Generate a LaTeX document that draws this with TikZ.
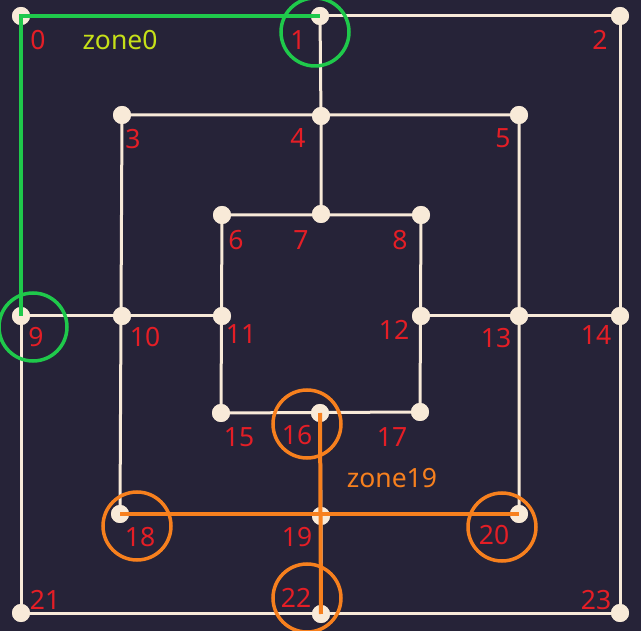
\documentclass[tikz,border=0pt]{standalone}
\usepackage{fontspec}
\setmainfont{Noto Sans}
\definecolor{bg}{HTML}{262338}
\definecolor{board}{HTML}{F8EAD8}
\definecolor{numred}{HTML}{E41E26}
\definecolor{zonegreen}{HTML}{1FC94B}
\definecolor{zonelime}{HTML}{C6E018}
\definecolor{zoneorange}{HTML}{F7801E}
\tikzset{
  pt/.style={circle,fill=board,inner sep=0pt,minimum size=18pt},
  num/.style={text=numred,font=\fontsize{26.5}{29}\selectfont,inner sep=0pt},
  zonetext/.style={font=\fontsize{26.5}{29}\selectfont,inner sep=0pt},
  boardline/.style={draw=board,line width=3pt},
  ring/.style={circle,draw=#1,line width=3.5pt,inner sep=0pt,minimum size=68pt},
  zoneline/.style={draw=#1,line width=4pt}
}
\begin{document}
\begin{tikzpicture}[x=1pt,y=-1pt]
\fill[bg] (0,0) rectangle (641,631);
\useasboundingbox (0,0) rectangle (641,631);
% board points
\node[pt] (p0) at (21,16) {};
\node[pt] (p1) at (320,16) {};
\node[pt] (p2) at (620,16) {};
\node[pt] (p3) at (122,115) {};
\node[pt] (p4) at (321,116) {};
\node[pt] (p5) at (519,115) {};
\node[pt] (p6) at (222,215) {};
\node[pt] (p7) at (321,214) {};
\node[pt] (p8) at (421,215) {};
\node[pt] (p9) at (21,316) {};
\node[pt] (p10) at (122,316) {};
\node[pt] (p11) at (222,316) {};
\node[pt] (p12) at (421,316) {};
\node[pt] (p13) at (519,316) {};
\node[pt] (p14) at (620,316) {};
\node[pt] (p15) at (221,413) {};
\node[pt] (p16) at (320,413) {};
\node[pt] (p17) at (420,412) {};
\node[pt] (p18) at (120,514) {};
\node[pt] (p19) at (321,516) {};
\node[pt] (p20) at (519,514) {};
\node[pt] (p21) at (21,613) {};
\node[pt] (p22) at (321,614) {};
\node[pt] (p23) at (620,613) {};
% board lines
\draw[boardline] (p0.center)--(p2.center)--(p23.center)--(p21.center)--cycle;
\draw[boardline] (p3.center)--(p5.center)--(p20.center)--(p18.center)--cycle;
\draw[boardline] (p6.center)--(p8.center)--(p17.center)--(p15.center)--cycle;
\draw[boardline] (p1.center)--(p4.center)--(p7.center);
\draw[boardline] (p9.center)--(p10.center)--(p11.center);
\draw[boardline] (p12.center)--(p13.center)--(p14.center);
\draw[boardline] (p16.center)--(p19.center)--(p22.center);
% points again on top of the lines
\foreach \i in {0,...,23}
  \fill[board] (p\i) circle (9pt);
% numbers
\node[num] (l0) at (38,40) {0};
\node[num] (l1) at (298,40) {1};
\node[num] (l2) at (600,40) {2};
\node[num] (l3) at (133,139) {3};
\node[num] (l4) at (298,138) {4};
\node[num] (l5) at (503,138) {5};
\node[num] (l6) at (236,240) {6};
\node[num] (l7) at (301,240) {7};
\node[num] (l8) at (400,240) {8};
\node[num] (l9) at (36,337) {9};
\node[num] (l10) at (145,337) {10};
\node[num] (l11) at (241,334) {11};
\node[num] (l12) at (394,330) {12};
\node[num] (l13) at (496,338) {13};
\node[num] (l14) at (596,335) {14};
\node[num] (l15) at (239,437) {15};
\node[num] (l16) at (297,435) {16};
\node[num] (l17) at (392,437) {17};
\node[num] (l18) at (140,537) {18};
\node[num] (l19) at (297,537) {19};
\node[num] (l20) at (494,535) {20};
\node[num] (l21) at (45,600) {21};
\node[num] (l22) at (296,598) {22};
\node[num] (l23) at (596,600) {23};
% zone0
\draw[zoneline=zonegreen] (p9.center)--(p0.center)--(p1.center);
\node[ring=zonegreen] (h1) at (315,32) {};
\node[ring=zonegreen] (h9) at (33,327) {};
\node[zonetext,text=zonelime] (z0) at (120,40) {zone0};
% zone19
\draw[zoneline=zoneorange] (p16.center)--(p22.center);
\draw[zoneline=zoneorange] (p18.center)--(p20.center);
\node[ring=zoneorange] (h16) at (307,424) {};
\node[ring=zoneorange] (h18) at (137,526) {};
\node[ring=zoneorange] (h20) at (502,527) {};
\node[ring=zoneorange] (h22) at (307,598) {};
\node[zonetext,text=zoneorange] (z19) at (392,478) {zone19};
\end{tikzpicture}
\end{document}
